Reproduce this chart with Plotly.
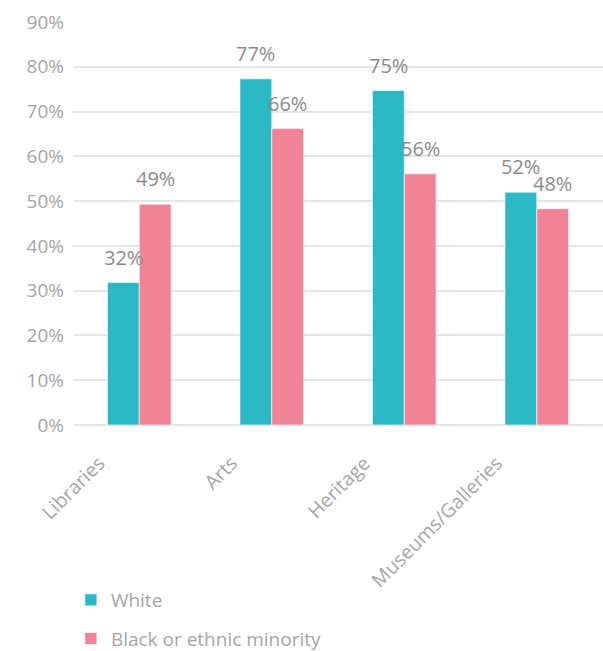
import plotly.graph_objects as go

categories = ["Libraries", "Arts", "Heritage", "Museums/Galleries"]
white = [31.8, 77.3, 74.7, 52.0]
minority = [49.3, 66.2, 56.1, 48.3]
white_labels = ["32%", "77%", "75%", "52%"]
minority_labels = ["49%", "66%", "56%", "48%"]
y_ticks = [0, 10, 20, 30, 40, 50, 60, 70, 80, 90]

teal = "#2cb8c5"
pink = "#f08496"
grey = "#a6a6a6"
label_grey = "#8c8c8c"
font_family = "Open Sans"

fig = go.Figure()
fig.add_trace(go.Bar(
    x=categories, y=white, name="White",
    marker=dict(color=teal, line=dict(color="#ffffff", width=0.6)),
    legendgroup="a",
))
fig.add_trace(go.Bar(
    x=categories, y=minority, name="Black or ethnic minority",
    marker=dict(color=pink, line=dict(color="#ffffff", width=0.6)),
    legendgroup="b",
))

# value labels sitting above each bar
for cat, v, t in zip(categories, white, white_labels):
    fig.add_annotation(x=cat, y=v, text=t, showarrow=False, xshift=-16,
                       yanchor="bottom", yshift=10,
                       font=dict(family=font_family, size=20, color=label_grey))
for cat, v, t in zip(categories, minority, minority_labels):
    fig.add_annotation(x=cat, y=v, text=t, showarrow=False, xshift=16,
                       yanchor="bottom", yshift=10,
                       font=dict(family=font_family, size=20, color=label_grey))

fig.update_layout(
    width=603, height=651,
    margin=dict(l=73, r=0, t=22, b=226, autoexpand=False),
    paper_bgcolor="white", plot_bgcolor="white",
    barmode="group", bargap=0.52, bargroupgap=0,
    font=dict(family=font_family, color=grey),
    legend=dict(
        orientation="v", x=-0.004, xanchor="left", y=-0.387, yanchor="top",
        font=dict(family=font_family, size=19, color=grey),
        traceorder="grouped", tracegroupgap=11,
        itemwidth=30,
    ),
    xaxis=dict(
        tickangle=-45, tickfont=dict(family=font_family, size=19.5, color=grey),
        showline=False, ticks="", automargin=False,
        ticklabelstandoff=22, ticklabelshift=-40,
    ),
    yaxis=dict(
        range=[0, 90], tickvals=y_ticks,
        ticktext=[f"{v}%" for v in y_ticks],
        tickfont=dict(family=font_family, size=19, color=grey),
        showgrid=True, gridcolor="#e6e6e6", gridwidth=1.5,
        zeroline=True, zerolinecolor="#e6e6e6", zerolinewidth=1.5,
        ticks="", ticklabelstandoff=8, automargin=False,
    ),
)

fig.write_html("out.html")
